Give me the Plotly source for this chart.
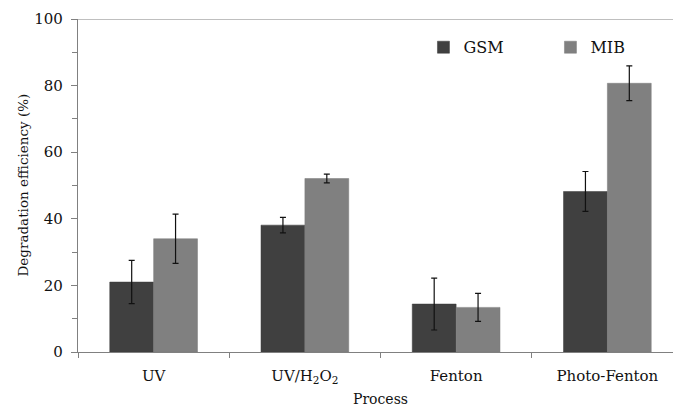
import plotly.graph_objects as go

categories = ["UV", "UV/H<sub>2</sub>O<sub>2</sub>", "Fenton", "Photo-Fenton"]
gsm = [21.0, 38.1, 14.4, 48.2]
gsm_err = [6.5, 2.3, 7.8, 6.0]
mib = [34.0, 52.1, 13.4, 80.7]
mib_err = [7.4, 1.3, 4.2, 5.2]
y_title = "Degradation efficiency (%)"

font = "DejaVu Serif"

fig = go.Figure()
fig.add_trace(go.Bar(name="GSM", x=categories, y=gsm,
                     marker=dict(color="#404040", line=dict(color="#3a3a3a", width=0.5)),
                     error_y=dict(type="data", array=gsm_err, color="#111111", thickness=1.2, width=3)))
fig.add_trace(go.Bar(name="MIB", x=categories, y=mib,
                     marker=dict(color="#808080", line=dict(color="#7a7a7a", width=0.5)),
                     error_y=dict(type="data", array=mib_err, color="#111111", thickness=1.2, width=3)))

fig.update_layout(
    width=681, height=409,
    margin=dict(l=70, r=6, t=11, b=65, autoexpand=False),
    paper_bgcolor="white", plot_bgcolor="white",
    barmode="group", bargap=0.42, bargroupgap=0,
    font=dict(family=font, color="#111111", size=15),
    legend=dict(orientation="h", x=0.571, y=0.915, xanchor="left", yanchor="middle",
                font=dict(size=16, family=font), entrywidth=82, entrywidthmode="pixels",
                itemwidth=30, bgcolor="rgba(0,0,0,0)"),
    showlegend=True,
)
fig.update_xaxes(
    type="category", range=[-0.5, 3.5], showline=True, linecolor="#808080", linewidth=1.2,
    ticks="outside", tickson="boundaries", ticklen=5, tickcolor="#808080",
    tickfont=dict(size=15, family=font), ticklabelstandoff=10,
    title=dict(text="Process", font=dict(size=14, family=font), standoff=8),
)
fig.update_yaxes(
    range=[0, 100], dtick=20, showgrid=False, zeroline=False,
    showline=True, linecolor="#808080", linewidth=1.2,
    ticks="outside", ticklen=6, tickcolor="#808080",
    minor=dict(ticks="outside", dtick=10, ticklen=5, tickcolor="#808080"),
    tickfont=dict(size=15, family=font), ticklabelstandoff=5,
)
fig.add_annotation(text=y_title, xref="paper", yref="paper", x=0, y=0.5,
                   xanchor="center", yanchor="middle", xshift=-56, textangle=-90,
                   showarrow=False, font=dict(size=13.5, family=font, color="#111111"))
fig.add_shape(type="line", xref="paper", yref="y", x0=0, x1=1, y0=100, y1=100,
              line=dict(color="#808080", width=1.2))

fig.write_html("out.html")
